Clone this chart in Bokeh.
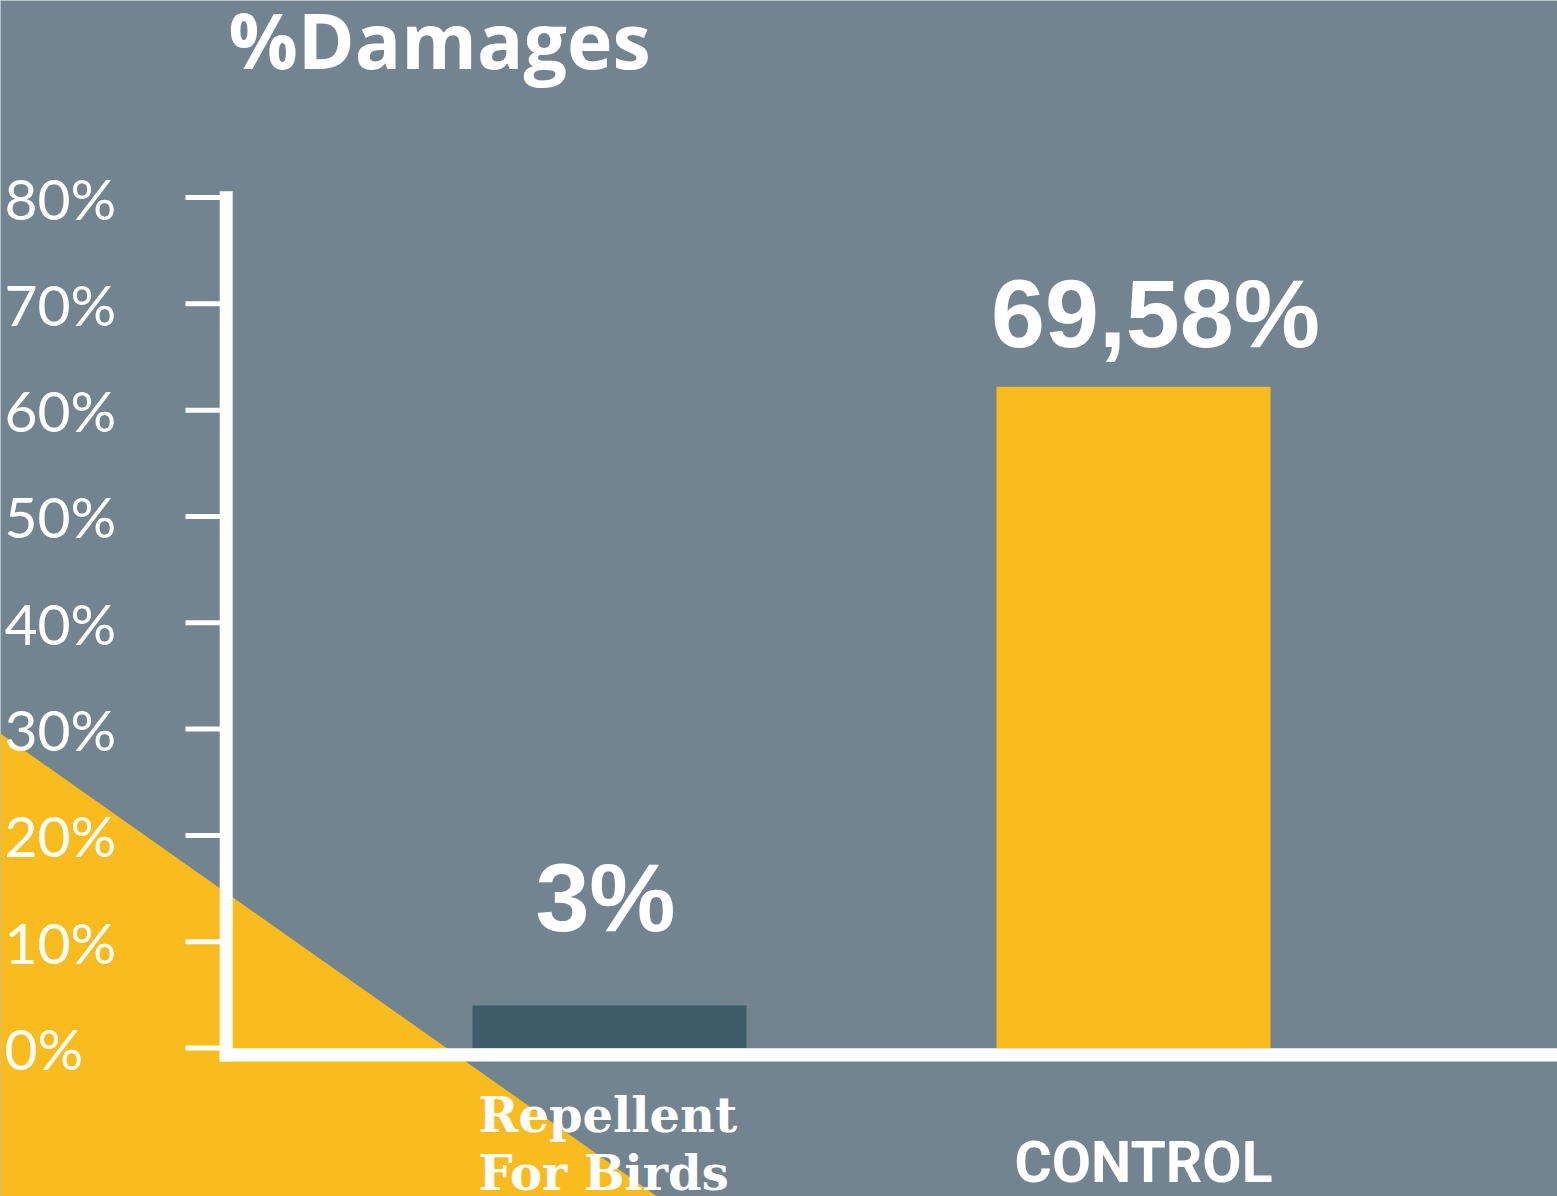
from bokeh.plotting import figure
from bokeh.models import Range1d, ColumnDataSource
from bokeh.core.properties import value
from bokeh.embed import file_html
from bokeh.resources import INLINE

# ---- data ----
categories = ["Repellent\nFor Birds", "CONTROL"]
bar_values = [4.0, 62.2]          # bar heights as drawn (%)
value_labels = ["3%", "69,58%"]   # labels printed above the bars
y_ticks = [0, 10, 20, 30, 40, 50, 60, 70, 80]
tick_labels = [f"{t}%" for t in y_ticks]
title_text = "%Damages"

# ---- style ----
BG = "#71848F"
YELLOW = "#F9BC1F"
DARK = "#3E5B68"
WHITE = "#FFFFFF"
bar_colors = [DARK, YELLOW]

W, H = 1557, 1196
ZERO_PX = 1047.5        # pixel row of the 0 % value
PX_PER_UNIT = 10.631    # pixels per 1 %
FIRST_BAR_PX = 609.0    # pixel column of first category
X_STEP = 524.0          # pixels between categories


def px2x(px):
    return (px - FIRST_BAR_PX) / X_STEP


def px2y(py):
    return (ZERO_PX - py) / PX_PER_UNIT


p = figure(width=W, height=H,
           x_range=Range1d(px2x(0), px2x(W)), y_range=Range1d(px2y(H), px2y(0)),
           output_backend="svg", toolbar_location=None,
           x_axis_location=None, y_axis_location=None, min_border=0)
p.background_fill_color = BG
p.border_fill_color = BG
p.outline_line_color = None
p.grid.visible = False

# decorative yellow triangle in the lower-left corner
tri_px = [(-10, 726), (700, 1226.5), (-10, 1226.5)]
p.patch(x=[px2x(a) for a, b in tri_px], y=[px2y(b) for a, b in tri_px],
        fill_color=YELLOW, line_color=None)

# bars
src = ColumnDataSource(dict(x=list(range(len(categories))), top=bar_values, color=bar_colors))
p.vbar(x="x", top="top", bottom=0, width=274 / X_STEP, fill_color="color", line_color=None, source=src)

# y axis: line, ticks, labels
AX_X = px2x(225.7)
p.segment(x0=[AX_X], y0=[px2y(1061)], x1=[AX_X], y1=[px2y(190.7)],
          line_color=WHITE, line_width=13, line_cap="butt")
n = len(y_ticks)
p.segment(x0=[px2x(185)] * n, y0=y_ticks, x1=[AX_X] * n, y1=y_ticks,
          line_color=WHITE, line_width=5)
p.text(x=[px2x(4)] * n, y=y_ticks, text=tick_labels,
       text_align="left", text_baseline="middle", text_color=WHITE,
       text_font=value("Lato"), text_font_size="57px")

# x axis line
p.segment(x0=[px2x(219.2)], y0=[px2y(1054.3)], x1=[px2x(W + 10)], y1=[px2y(1054.3)],
          line_color=WHITE, line_width=13.3)

# value labels above bars
label_dx_px = [-4, 22]
label_gap_px = [108, 73]
p.text(x=[i + label_dx_px[i] / X_STEP for i in range(len(categories))],
       y=[v + label_gap_px[i] / PX_PER_UNIT for i, v in enumerate(bar_values)],
       text=value_labels, text_align="center", text_baseline="alphabetic",
       text_color=WHITE, text_font=value("Liberation Sans"), text_font_style="bold",
       text_font_size="97px")

# category labels below the axis
p.text(x=[0 - 131 / X_STEP], y=[px2y(1086)], text=[categories[0]],
       text_align="left", text_baseline="top", text_line_height=1.05,
       text_color=WHITE, text_font=value("DejaVu Serif"), text_font_style="bold",
       text_font_size="48px")
p.text(x=[1 + 10 / X_STEP], y=[px2y(1162)], text=[categories[1]],
       text_align="center", text_baseline="alphabetic",
       text_color=WHITE, text_font=value("Roboto"), text_font_style="bold",
       text_font_size="57px")

# title
p.text(x=[px2x(228)], y=[px2y(39)], text=[title_text],
       text_align="left", text_baseline="alphabetic",
       text_color=WHITE, text_font=value("Open Sans"), text_font_style="bold",
       text_font_size="77px")

open("out.html", "w").write(file_html(p, INLINE))
